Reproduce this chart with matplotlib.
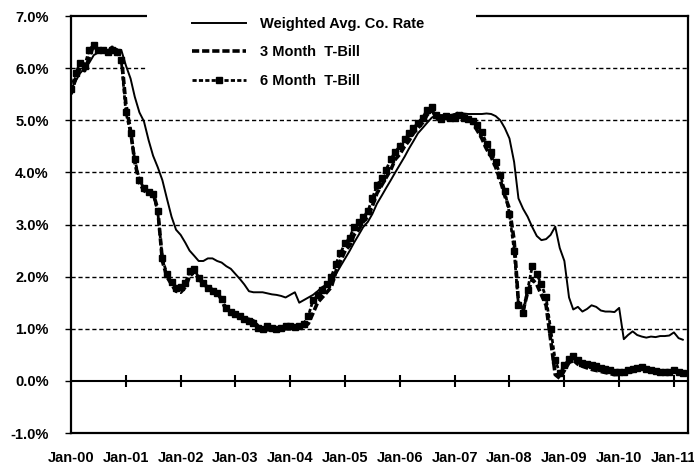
import pandas as pd
import matplotlib
matplotlib.use('Agg')
import matplotlib.pyplot as plt
import matplotlib.dates as mdates
from matplotlib.patches import Rectangle

plt.rcParams['font.family'] = ['Liberation Sans', 'DejaVu Sans']
plt.rcParams['font.weight'] = 'bold'

dates = pd.date_range('2000-01-01', periods=135, freq='MS')

# monthly values, %
wac_rate = [
    5.60, 5.75, 5.90, 6.00, 6.10, 6.25, 6.30, 6.30, 6.30, 6.35, 6.35, 6.35,
    6.05, 5.80, 5.45, 5.15, 4.98, 4.62, 4.32, 4.10, 3.85, 3.50, 3.15, 2.90,
    2.80, 2.65, 2.50, 2.40, 2.30, 2.30, 2.35, 2.35, 2.30, 2.27, 2.20, 2.15,
    2.05, 1.95, 1.85, 1.72, 1.70, 1.70, 1.70, 1.68, 1.66, 1.65, 1.63, 1.60,
    1.65, 1.70, 1.50, 1.55, 1.60, 1.65, 1.72, 1.80, 1.85, 1.90, 2.05, 2.20,
    2.35, 2.50, 2.65, 2.80, 2.95, 3.05, 3.20, 3.40, 3.55, 3.70, 3.85, 4.00,
    4.15, 4.30, 4.45, 4.60, 4.75, 4.85, 4.95, 5.05, 5.10, 5.10, 5.10, 5.10,
    5.12, 5.13, 5.13, 5.12, 5.12, 5.12, 5.12, 5.13, 5.12, 5.08, 5.00, 4.85,
    4.65, 4.20, 3.50, 3.30, 3.15, 2.95, 2.78, 2.70, 2.72, 2.80, 2.96, 2.55,
    2.30, 1.60, 1.37, 1.42, 1.33, 1.38, 1.45, 1.42, 1.35, 1.33, 1.33, 1.32,
    1.40, 0.80, 0.88, 0.95, 0.88, 0.85, 0.83, 0.85, 0.84, 0.86, 0.86, 0.87,
    0.93, 0.82, 0.79,
]

tbill_3m = [
    5.50, 5.80, 6.00, 5.95, 6.20, 6.45, 6.30, 6.35, 6.30, 6.40, 6.35, 6.25,
    5.30, 4.80, 4.20, 3.80, 3.65, 3.60, 3.60, 3.30, 2.30, 2.00, 1.85, 1.72,
    1.70, 1.80, 2.00, 2.10, 1.95, 1.85, 1.80, 1.75, 1.70, 1.55, 1.35, 1.30,
    1.25, 1.22, 1.20, 1.18, 1.15, 1.05, 0.98, 0.98, 0.98, 0.98, 0.98, 1.00,
    1.00, 1.00, 1.02, 1.03, 1.10, 1.30, 1.50, 1.60, 1.70, 1.80, 2.10, 2.30,
    2.50, 2.60, 2.80, 2.90, 3.05, 3.15, 3.35, 3.60, 3.75, 3.90, 4.05, 4.25,
    4.35, 4.50, 4.60, 4.75, 4.85, 4.95, 5.10, 5.20, 5.05, 4.97, 5.05, 5.05,
    5.10, 5.15, 5.10, 5.05, 4.95, 4.80, 4.65, 4.45, 4.30, 4.10, 3.85, 3.55,
    3.30, 2.70, 1.50, 1.35, 1.70, 1.95, 1.85, 1.65, 1.45, 0.80, 0.12, 0.05,
    0.20, 0.35, 0.40, 0.32, 0.28, 0.25, 0.22, 0.20, 0.18, 0.16, 0.14, 0.12,
    0.13, 0.14, 0.16, 0.18, 0.22, 0.25, 0.22, 0.18, 0.16, 0.15, 0.14, 0.15,
    0.18, 0.14, 0.12,
]

tbill_6m = [
    5.60, 5.90, 6.10, 6.05, 6.35, 6.45, 6.35, 6.35, 6.30, 6.35, 6.30, 6.15,
    5.15, 4.75, 4.25, 3.85, 3.70, 3.62, 3.58, 3.25, 2.35, 2.05, 1.90, 1.78,
    1.80, 1.88, 2.10, 2.15, 1.98, 1.88, 1.78, 1.72, 1.68, 1.58, 1.40, 1.33,
    1.28, 1.24, 1.18, 1.15, 1.12, 1.02, 1.00, 1.05, 1.02, 1.00, 1.02, 1.05,
    1.05, 1.03, 1.05, 1.10, 1.25, 1.55, 1.65, 1.75, 1.85, 2.00, 2.25, 2.45,
    2.65, 2.75, 2.95, 3.05, 3.15, 3.25, 3.50, 3.75, 3.90, 4.05, 4.25, 4.40,
    4.50, 4.65, 4.75, 4.85, 4.95, 5.05, 5.20, 5.25, 5.10, 5.02, 5.08, 5.05,
    5.05, 5.10, 5.05, 5.02, 4.98, 4.90, 4.78, 4.55, 4.40, 4.20, 3.95, 3.65,
    3.20, 2.50, 1.45, 1.30, 1.75, 2.20, 2.05, 1.85, 1.60, 1.00, 0.40, 0.15,
    0.30, 0.42, 0.48, 0.40, 0.35, 0.32, 0.30, 0.28, 0.25, 0.22, 0.20, 0.18,
    0.18, 0.18, 0.20, 0.22, 0.25, 0.27, 0.23, 0.20, 0.19, 0.18, 0.17, 0.18,
    0.20, 0.17, 0.16,
]

labels = ['Weighted Avg. Co. Rate', '3 Month  T-Bill', '6 Month  T-Bill']
y_ticks = [-1, 0, 1, 2, 3, 4, 5, 6, 7]
year_ticks = pd.date_range('2000-01-01', '2011-01-01', freq='YS')

fig = plt.figure(figsize=(6.94, 4.75), dpi=100)
ax = fig.add_axes([0.1023, 0.0884, 0.8891, 0.8779])

ax.plot(dates, wac_rate, color='black', lw=1.4, label=labels[0], zorder=4)
ax.plot(dates, tbill_3m, color='black', lw=2.6, ls=(0, (2, 0.8)), label=labels[1], zorder=3)
ax.plot(dates, tbill_6m, color='black', lw=2.0, ls=(0, (1.5, 0.8)), marker='s', ms=4.5,
        mfc='black', mec='black', label=labels[2], zorder=3)

# gridlines and zero line
for v in y_ticks[2:-1]:
    ax.axhline(v, color='black', lw=1.0, ls=(0, (3, 2)), zorder=1)
ax.axhline(0, color='black', lw=1.5, zorder=2)
ax.plot(year_ticks[1:], [0] * (len(year_ticks) - 1), ls='none', marker='|',
        ms=9, mew=1.5, color='black', zorder=2)

ax.set_ylim(-1, 7)
ax.set_xlim(pd.Timestamp('2000-01-01'), pd.Timestamp('2011-04-05'))
ax.set_yticks(y_ticks)
ax.set_yticklabels([f'{v:.1f}%' for v in y_ticks])
ax.set_xticks(year_ticks)
ax.xaxis.set_major_formatter(mdates.DateFormatter('%b-%y'))
ax.tick_params(axis='x', length=0, pad=13, labelsize=10.5)
ax.tick_params(axis='y', length=4, width=1, pad=12, labelsize=10.5)
for s in ax.spines.values():
    s.set_linewidth(1.6)

# white box behind the legend (covers top border and gridlines)
ax.add_patch(Rectangle((0.123, 0.80), 0.533, 0.225, transform=ax.transAxes,
                       facecolor='white', edgecolor='none', clip_on=False, zorder=4.5))
ax.legend(loc='upper left', bbox_to_anchor=(0.196, 0.998), frameon=False,
          borderpad=0, borderaxespad=0, handlelength=3.7, handletextpad=1.0,
          labelspacing=1.0, fontsize=10.5)

fig.savefig('out.png', dpi=100)
